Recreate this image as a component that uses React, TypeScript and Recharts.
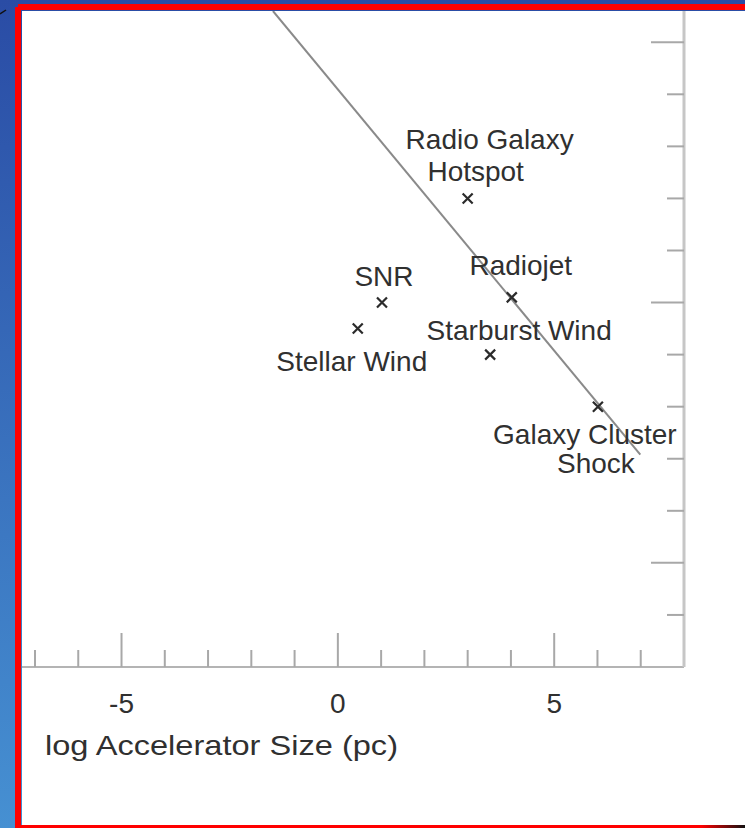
import React from 'react';
import { ScatterChart, Scatter, XAxis, YAxis, Label } from 'recharts';

// accelerator sites: label lines, log size (pc), log field
const SOURCE_LABELS = [
  ['Radio Galaxy', 'Hotspot'],
  ['Radiojet'],
  ['SNR'],
  ['Stellar Wind'],
  ['Starburst Wind'],
  ['Galaxy Cluster', 'Shock'],
];
const LOG_SIZE = [3.0, 4.02, 1.02, 0.46, 3.52, 6.01];
const LOG_FIELD = [-3.0, -4.9, -5.0, -5.5, -6.0, -7.0];

// Hillas limit line end points
const LIMIT_SIZE = [-1.5, 6.99];
const LIMIT_FIELD = [0.6, -7.92];

const X_TICKS = [-7, -6, -5, -4, -3, -2, -1, 0, 1, 2, 3, 4, 5, 6, 7];
const Y_TICKS = [-11, -10, -9, -8, -7, -6, -5, -4, -3, -2, -1, 0];

// where each label line sits relative to its marker (dx, baseline dy)
const LABEL_OFFSETS = [
  [[22, -49], [8, -17]],
  [[9, -22]],
  [[2, -17]],
  [[-6, 42]],
  [[29, -15]],
  [[-13, 37], [-2, 66]],
];

const FONT = '"Liberation Sans", Arial, Helvetica, sans-serif';
const TEXT = '#303030';

const points = SOURCE_LABELS.map((lines, i) => ({ x: LOG_SIZE[i], y: LOG_FIELD[i], lines, i }));
const limit = LIMIT_SIZE.map((x, i) => ({ x, y: LIMIT_FIELD[i] }));

const Cross = (props: any) => {
  const { cx, cy, payload } = props;
  const offs = LABEL_OFFSETS[payload.i];
  const r = 5;
  return (
    <g>
      <path
        d={`M${cx - r},${cy - r}L${cx + r},${cy + r}M${cx - r},${cy + r}L${cx + r},${cy - r}`}
        stroke="#2b2b2b"
        strokeWidth={2.2}
      />
      {payload.lines.map((t: string, k: number) => (
        <text
          key={k}
          x={cx + offs[k][0]}
          y={cy + offs[k][1]}
          textAnchor="middle"
          fontSize={28}
          fontFamily={FONT}
          fill={TEXT}
        >
          {t}
        </text>
      ))}
    </g>
  );
};

const XTick = (props: any) => {
  const { x, y, payload } = props;
  const major = payload.value % 5 === 0;
  return (
    <g>
      <line x1={x} x2={x} y1={y} y2={y - (major ? 34 : 17)} stroke="#a8a8a8" strokeWidth={2} />
      {major && (
        <text x={x} y={y + 46} textAnchor="middle" fontSize={28} fontFamily={FONT} fill={TEXT}>
          {payload.value}
        </text>
      )}
    </g>
  );
};

const YTick = (props: any) => {
  const { x, y, payload } = props;
  const major = payload.value % 5 === 0;
  return <line x1={x} x2={x - (major ? 33 : 17)} y1={y} y2={y} stroke="#a8a8a8" strokeWidth={2} />;
};

export default function App() {
  return (
    <div
      style={{
        position: 'absolute',
        left: 0,
        top: 0,
        width: 745,
        height: 828,
        overflow: 'hidden',
        background: 'linear-gradient(to bottom, #2a4ca5, #4690d2)',
      }}
    >
      <svg width={10} height={16} style={{ position: 'absolute', left: 0, top: 0 }}>
        <line x1={0} y1={14} x2={6} y2={10} stroke="#111" strokeWidth={1.5} />
      </svg>
      <div style={{ position: 'absolute', left: 15, top: 7, width: 6, height: 821, background: '#ff0000' }} />
      <div style={{ position: 'absolute', left: 18, top: 4, right: 0, height: 6, background: '#ff0000' }} />
      <div style={{ position: 'absolute', left: 22, top: 11, right: 0, height: 814, background: '#ffffff' }} />
      <div
        style={{
          position: 'absolute',
          left: 15,
          top: 825,
          right: 0,
          height: 3,
          background: 'linear-gradient(to right, #ff0000 0%, #ff0000 94%, #111 100%)',
        }}
      />
      <div style={{ position: 'absolute', left: 0, top: 0 }}>
        <ScatterChart width={745} height={828} margin={{ top: 11, right: 21, bottom: 41, left: 22 }}>
          <XAxis
            type="number"
            dataKey="x"
            domain={[-7.3, 8]}
            ticks={X_TICKS}
            interval={0}
            allowDataOverflow
            height={120}
            tickSize={0}
            tickMargin={0}
            tickLine={false}
            tick={(p: any) => <XTick {...p} />}
            axisLine={{ stroke: '#b4b4b4', strokeWidth: 2 }}
          >
            <Label
              content={(p: any) => {
                const vb = p.viewBox || { x: 22, y: 667 };
                return (
                  <text
                    x={vb.x + 23}
                    y={vb.y + 88}
                    fontSize={28}
                    fontFamily={FONT}
                    fill={TEXT}
                    textLength={353}
                    lengthAdjust="spacingAndGlyphs"
                  >
                    log Accelerator Size (pc)
                  </text>
                );
              }}
            />
          </XAxis>
          <YAxis
            type="number"
            dataKey="y"
            orientation="right"
            domain={[-12, 0.6]}
            ticks={Y_TICKS}
            interval={0}
            allowDataOverflow
            width={40}
            tickSize={0}
            tickMargin={0}
            tickLine={false}
            tick={(p: any) => <YTick {...p} />}
            axisLine={{ stroke: '#c6c6c6', strokeWidth: 3 }}
          />
          <Scatter
            data={limit}
            line={{ stroke: '#8a8a8a', strokeWidth: 2 }}
            shape={() => <g />}
            isAnimationActive={false}
          />
          <Scatter data={points} shape={(p: any) => <Cross {...p} />} isAnimationActive={false} />
        </ScatterChart>
      </div>
    </div>
  );
}
